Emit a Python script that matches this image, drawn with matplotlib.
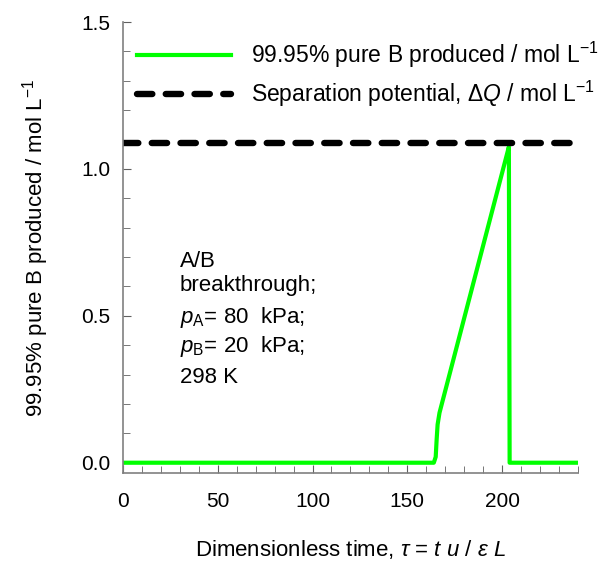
import numpy as np
import matplotlib
matplotlib.use('Agg')
import matplotlib.pyplot as plt

plt.rcParams['font.family'] = ['Liberation Sans', 'DejaVu Sans']
plt.rcParams['mathtext.fontset'] = 'custom'
plt.rcParams['mathtext.rm'] = 'Liberation Sans'
plt.rcParams['mathtext.it'] = 'Liberation Sans:italic'
plt.rcParams['mathtext.bf'] = 'Liberation Sans:bold'

# data
tau = [0, 164, 165, 165.5, 166, 167, 203, 203.6, 204, 240]
pure_b = [0, 0, 0.02, 0.08, 0.13, 0.17, 1.06, 1.075, 0, 0]
dq_tau = [0, 240]
dq = [1.088, 1.088]

x_ticks = [0, 50, 100, 150, 200]
y_ticks = [0.0, 0.5, 1.0, 1.5]

note_lines = ['A/B', 'breakthrough;', r'$p_\mathrm{A}$= 80  kPa;',
              r'$p_\mathrm{B}$= 20  kPa;', '298 K']
note_y = [0.667, 0.585, 0.474, 0.376, 0.272]

fig = plt.figure(figsize=(6.07, 5.66), dpi=100)
ax = fig.add_axes([0.2026, 0.1643, 0.7494, 0.7968])

ax.plot(tau, pure_b, color='#00ff00', lw=3,
        label=r'99.95% pure B produced / mol L$^{-1}$')
ax.plot(dq_tau, dq, color='black', lw=4.6, ls=(0, (2.4, 2.1)),
        dash_capstyle='round',
        label=r'Separation potential, $\Delta Q$ / mol L$^{-1}$')

for s, yy in zip(note_lines, note_y):
    ax.text(30, yy, s, fontsize=16)

ax.set_xlim(0, 240)
ax.set_ylim(-0.035, 1.5)
ax.set_xticks(x_ticks)
ax.set_yticks(y_ticks)
ax.set_yticklabels(['%.1f' % v for v in y_ticks])
ax.set_xticks(np.arange(0, 241, 10), minor=True)
ax.set_yticks(np.arange(0, 1.51, 0.1), minor=True)
ax.tick_params(which='both', direction='in', color='#606060', labelsize=15)
ax.tick_params(axis='x', which='both', pad=14)
ax.tick_params(axis='y', which='both', pad=9)
ax.tick_params(which='major', length=6)
ax.tick_params(which='minor', length=5)

for side in ['top', 'right']:
    ax.spines[side].set_visible(False)
for side in ['left', 'bottom']:
    ax.spines[side].set_color('#808080')
    ax.spines[side].set_linewidth(1.2)

ax.set_xlabel(r'Dimensionless time, $\tau$ = $t$ $u$ / $\varepsilon$ $L$', fontsize=16, labelpad=19)
ax.set_ylabel(r'99.95% pure B produced / mol L$^{-1}$', fontsize=16, labelpad=22)

ax.legend(loc='upper left', frameon=False, fontsize=16.5, handlelength=4.1,
          handletextpad=0.9, labelspacing=0.38,
          bbox_to_anchor=(0.0, 0.99), borderaxespad=0.2)

fig.savefig('out.png', dpi=100)
